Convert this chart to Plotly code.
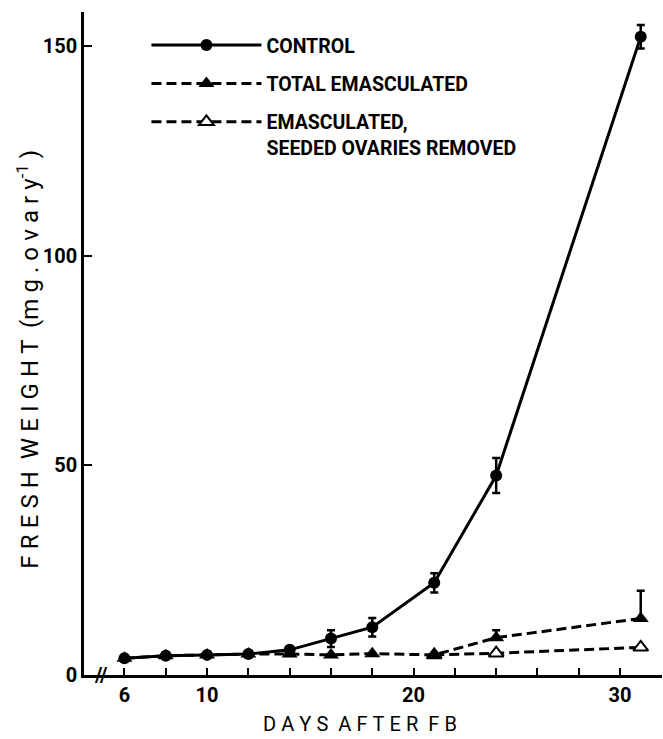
import plotly.graph_objects as go

# ---- data ----
days = [6, 8, 10, 12, 14, 16, 18, 21, 24, 31]
control = [4.0, 4.6, 4.8, 5.0, 6.0, 8.7, 11.4, 22.0, 47.6, 152.3]
control_err = [None, None, None, None, 0.8, 2.0, 2.2, 2.3, 4.2, 2.8]

total_emasc = [4.0, 4.6, 4.8, 5.0, 5.0, 4.8, 5.1, 4.8, 8.9, 13.5]
total_err_plus = [None, None, None, None, None, None, None, None, 1.8, 6.6]

days_removed = [21, 24, 31]
emasc_removed = [4.8, 5.2, 6.6]

xtick_vals = [6, 10, 20, 30]
xtick_text = ["6", "10", "20", "30"]
xminor_vals = [6, 8, 10, 12, 14, 16, 18, 20, 22, 24, 26, 28, 30, 32]
ytick_vals = [0, 50, 100, 150]
ytick_text = ["0", "50", "100", "150"]

names = ["CONTROL", "TOTAL EMASCULATED", "EMASCULATED,<br>SEEDED OVARIES REMOVED"]

SP = "\u2005"


def spaced(s):
    return SP.join(list(s))


FONT = "Roboto, DejaVu Sans, sans-serif"

fig = go.Figure()

fig.add_trace(go.Scatter(
    x=days, y=control, name=names[0], mode="lines+markers",
    line=dict(color="black", width=3),
    marker=dict(symbol="circle", size=12, color="black"),
    error_y=dict(type="data", array=control_err, symmetric=True,
                 color="black", thickness=2.5, width=4),
    legendrank=1, legendgroup="a", cliponaxis=False,
))

fig.add_trace(go.Scatter(
    x=days_removed, y=emasc_removed, name=names[2], mode="lines+markers",
    line=dict(color="black", width=3, dash="10px,5px"),
    marker=dict(symbol="triangle-up", size=13, color="white",
                line=dict(color="black", width=2)),
    legendrank=3, legendgroup="c", cliponaxis=False,
))

fig.add_trace(go.Scatter(
    x=days, y=total_emasc, name=names[1], mode="lines+markers",
    line=dict(color="black", width=3, dash="10px,5px"),
    marker=dict(symbol="triangle-up", size=14, color="black"),
    error_y=dict(type="data", array=total_err_plus,
                 arrayminus=[None] * len(days), symmetric=False,
                 color="black", thickness=2.5, width=4),
    legendrank=2, legendgroup="b", cliponaxis=False,
))

# axis-break mark
fig.add_annotation(x=4.86, y=0, xref="x", yref="y", text="<b>//</b>",
                   showarrow=False, font=dict(family=FONT, size=20, color="black"),
                   xanchor="center", yanchor="middle")

# axis titles (letter-spaced)
fig.add_annotation(x=0.4775, y=-0.074, xref="paper", yref="paper",
                   text=spaced("DAYS") + "  " + spaced("AFTER") + "  " + spaced("FB"),
                   showarrow=False, font=dict(family=FONT, size=20, color="black"),
                   xanchor="center", yanchor="middle")

fig.add_annotation(x=-0.0965, y=0.476, xref="paper", yref="paper",
                   text=spaced("FRESH") + "  " + spaced("WEIGHT") + "  (" + SP.join("mg.") + " "
                   + SP.join("ovary") + "<sup>-1</sup>" + SP + ")",
                   textangle=-90, showarrow=False,
                   font=dict(family=FONT, size=24, color="black"),
                   xanchor="center", yanchor="middle")

fig.update_layout(
    width=663, height=739,
    margin=dict(l=84, r=1, t=12, b=64),
    plot_bgcolor="white", paper_bgcolor="white",
    font=dict(family=FONT, color="black"),
    showlegend=True,
    legend=dict(x=0.108, y=0.979, xanchor="left", yanchor="top",
                bgcolor="rgba(0,0,0,0)", borderwidth=0,
                font=dict(family=FONT, size=19.5, color="black", weight="bold"),
                itemwidth=110, tracegroupgap=10, valign="top",
                traceorder="grouped"),
    xaxis=dict(range=[4.04, 32.03], showgrid=False, zeroline=False,
               showline=True, linecolor="black", linewidth=2.5,
               ticks="inside", ticklen=7, tickwidth=2, tickcolor="black",
               tickmode="array", tickvals=xtick_vals, ticktext=xtick_text,
               minor=dict(tickmode="array", tickvals=xminor_vals, ticks="inside",
                          ticklen=7, tickwidth=2, tickcolor="black", showgrid=False),
               tickfont=dict(family=FONT, size=20, color="black", weight="bold")),
    yaxis=dict(range=[0, 158.2], showgrid=False, zeroline=False,
               showline=True, linecolor="black", linewidth=2.5,
               ticks="inside", ticklen=8, tickwidth=2, tickcolor="black",
               tickmode="array", tickvals=ytick_vals, ticktext=ytick_text,
               tickfont=dict(family=FONT, size=20, color="black", weight="bold")),
)

fig.write_html("out.html", config={"displayModeBar": False},
               post_script="document.body.style.margin='0';document.body.style.overflow='hidden';")
